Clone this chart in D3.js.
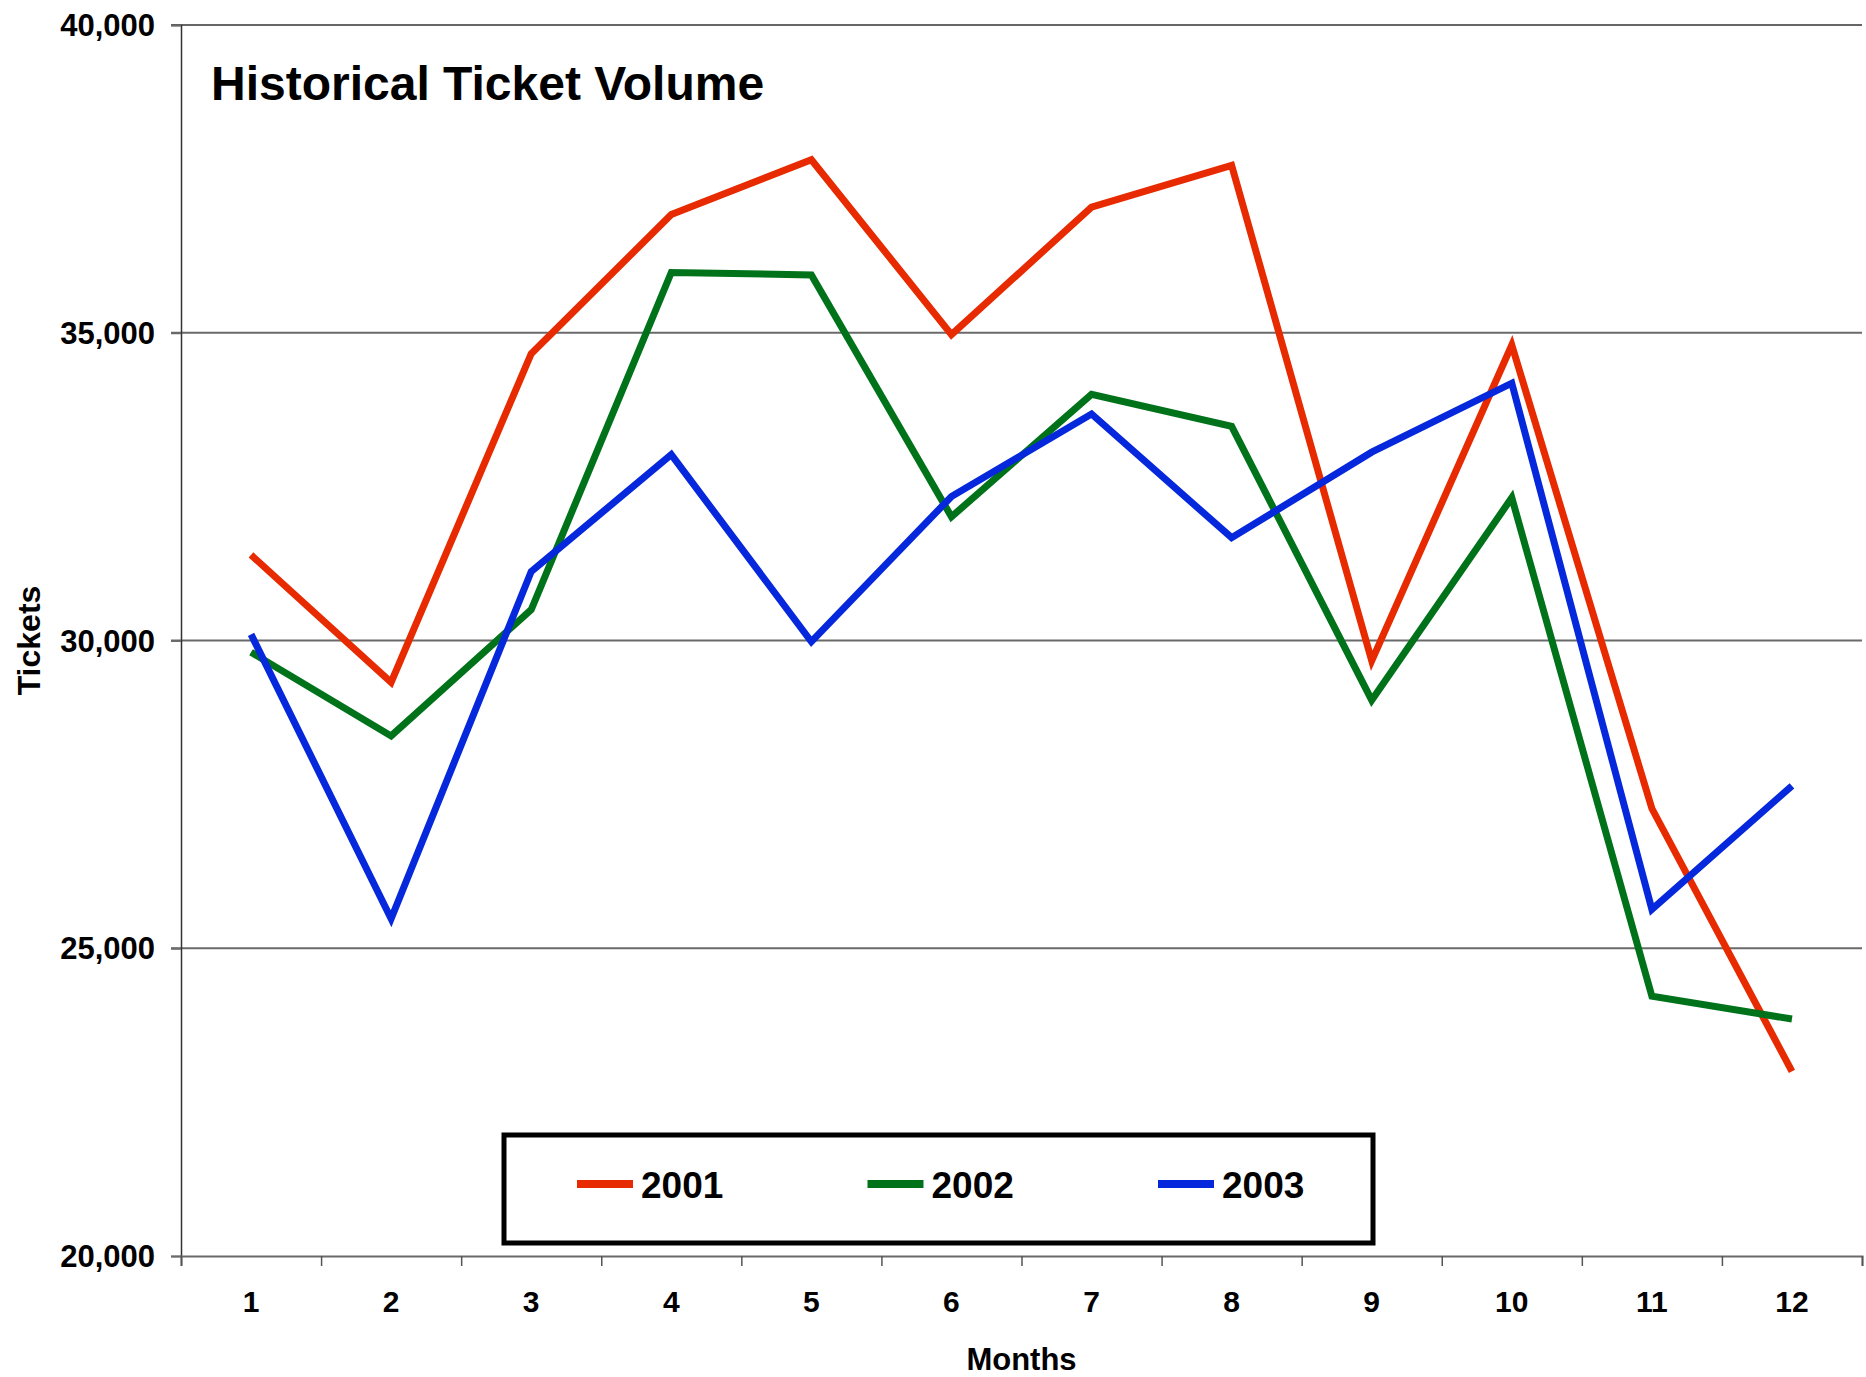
<!DOCTYPE html>
<html>
<head>
<meta charset="utf-8">
<script src="https://cdn.jsdelivr.net/npm/d3@7"></script>
<style>
  body { margin: 0; background: #fff; }
  text { font-family: "Liberation Sans", Arial, sans-serif; font-weight: bold; fill: #000; }
</style>
</head>
<body>
<div id="chart"></div>
<script>
// chart data
var months = ["1", "2", "3", "4", "5", "6", "7", "8", "9", "10", "11", "12"];
var years = ["2001", "2002", "2003"];
var tickets2001 = [31390, 29320, 34660, 36920, 37810, 34970, 37040, 37720, 29670, 34800, 27270, 23000];
var tickets2002 = [29810, 28450, 30500, 35980, 35940, 32010, 34000, 33480, 29030, 32320, 24220, 23850];
var tickets2003 = [30100, 25480, 31120, 33020, 29980, 32340, 33680, 31670, 33060, 34180, 25630, 27640];
var yTicks = [20000, 25000, 30000, 35000, 40000];
var colors = ["#e82a00", "#00731a", "#0628dc"];

var svgWidth = 1866;
var svgHeight = 1377;
var margin = { top: 25, bottom: 121, left: 181, right: 4 };
var chartWidth = svgWidth - margin.left - margin.right;
var chartHeight = svgHeight - margin.top - margin.bottom;

var svg = d3.select("#chart").append("svg")
    .attr("width", svgWidth)
    .attr("height", svgHeight);

var chartGroup = svg.append("g")
    .attr("transform", `translate(${margin.left},${margin.top})`);

var xBand = d3.scaleBand().domain(months).range([0, chartWidth]);
var xEdges = d3.scaleLinear().domain([0, months.length]).range([0, chartWidth]);
var yScale = d3.scaleLinear().domain([20000, 40000]).range([chartHeight, 0]);

// gridlines
chartGroup.append("g")
    .selectAll("line")
    .data(yTicks.slice(1))
    .enter()
    .append("line")
    .attr("x1", -10)
    .attr("x2", chartWidth)
    .attr("y1", d => yScale(d))
    .attr("y2", d => yScale(d))
    .attr("stroke", d => d === 40000 ? "#333" : "#6a6a6a")
    .attr("stroke-width", d => d === 40000 ? 1.5 : 2);

// y axis
var yAxis = chartGroup.append("g")
    .call(d3.axisLeft(yScale).tickValues(yTicks).tickFormat(d3.format(",")).tickSize(10).tickPadding(16));
yAxis.select(".domain").attr("stroke", "#333").attr("stroke-width", 1.5);
yAxis.selectAll(".tick line").attr("stroke", "#6a6a6a").attr("stroke-width", 2);
yAxis.selectAll("text").style("font-size", "31px").attr("dy", "0.34em");

// x axis: boundary ticks
var xAxis = chartGroup.append("g")
    .attr("transform", `translate(0,${chartHeight})`)
    .call(d3.axisBottom(xEdges).ticks(12).tickFormat("").tickSize(10).tickSizeOuter(10));
xAxis.select(".domain").attr("stroke", "#6a6a6a").attr("stroke-width", 2);
xAxis.selectAll(".tick line").attr("stroke", "#555").attr("stroke-width", 1.5);

// x axis: month labels at band centres
var xLabels = chartGroup.append("g")
    .attr("transform", `translate(0,${chartHeight})`)
    .call(d3.axisBottom(xBand).tickSize(0).tickPadding(35));
xLabels.select(".domain").remove();
xLabels.selectAll("text").style("font-size", "30px");

// lines
var line = d3.line()
    .x((d, i) => xBand(months[i]) + xBand.bandwidth() / 2)
    .y(d => yScale(d));

[tickets2001, tickets2002, tickets2003].forEach(function(series, i) {
    chartGroup.append("path")
        .datum(series)
        .attr("d", line)
        .attr("fill", "none")
        .attr("stroke", colors[i])
        .attr("stroke-width", 7)
        .attr("stroke-linejoin", "miter");
});

// title
chartGroup.append("text")
    .attr("x", 30)
    .attr("y", 75)
    .style("font-size", "48px")
    .text("Historical Ticket Volume");

// axis titles
svg.append("text")
    .attr("transform", `translate(40,${margin.top + chartHeight / 2}) rotate(-90)`)
    .attr("text-anchor", "middle")
    .style("font-size", "32px")
    .text("Tickets");

svg.append("text")
    .attr("x", margin.left + chartWidth / 2)
    .attr("y", 1370)
    .attr("text-anchor", "middle")
    .style("font-size", "31px")
    .text("Months");

// legend
var legend = svg.append("g");
legend.append("rect")
    .attr("x", 504)
    .attr("y", 1135)
    .attr("width", 869)
    .attr("height", 108)
    .attr("fill", "#fff")
    .attr("stroke", "#000")
    .attr("stroke-width", 5);

var legendItems = legend.selectAll("g.item")
    .data(years)
    .enter()
    .append("g")
    .attr("class", "item")
    .attr("transform", (d, i) => `translate(${577 + i * 290.5},1184)`);

legendItems.append("line")
    .attr("x1", 0)
    .attr("x2", 56)
    .attr("stroke", (d, i) => colors[i])
    .attr("stroke-width", 8);

legendItems.append("text")
    .attr("x", 64)
    .attr("y", 14)
    .style("font-size", "37px")
    .text(d => d);
</script>
</body>
</html>
